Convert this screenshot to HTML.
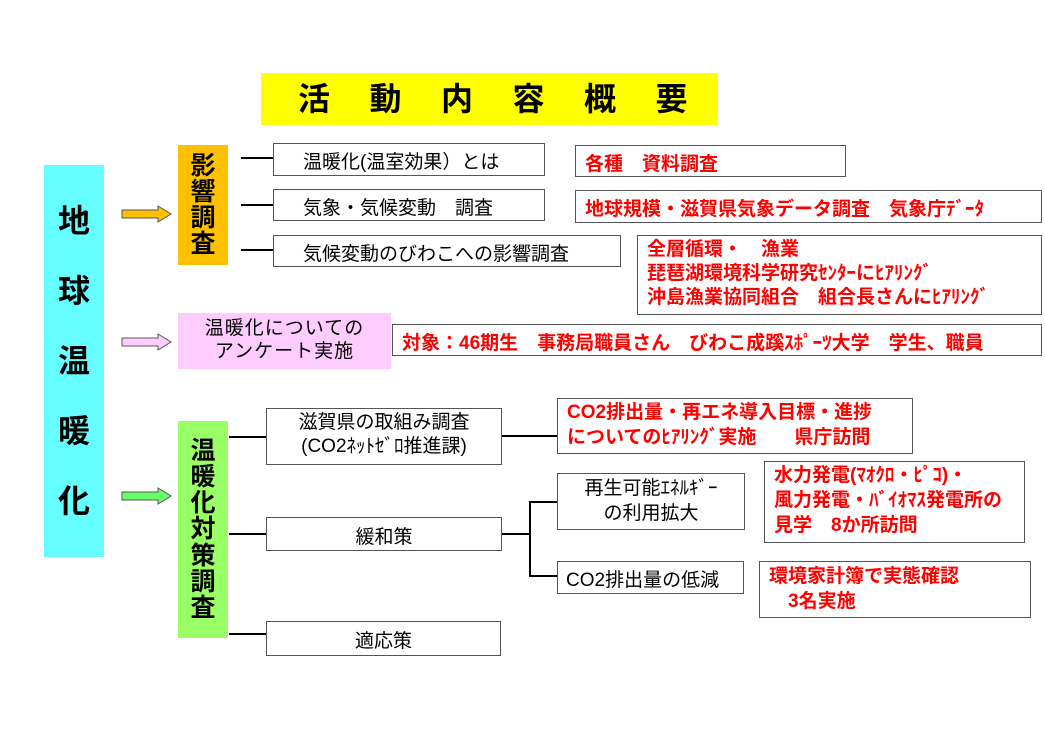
<!DOCTYPE html>
<html><head><meta charset="utf-8"><style>
body{margin:0;width:1045px;height:731px;background:#fff;position:relative;overflow:hidden;font-family:"Liberation Sans","Noto Sans CJK JP",sans-serif;}
.a{position:absolute;box-sizing:border-box;}
.bx{border:1.5px solid #555;background:#fff;font-size:19px;color:#000;white-space:nowrap;}
.r{color:#f00;font-weight:bold;}
.v{display:flex;flex-direction:column;align-items:center;justify-content:center;font-weight:bold;line-height:1.05;}
</style></head><body>
<div class="a" style="left:261px;top:73px;width:457px;height:52px;background:#ff0;"></div>
<div class="a" style="left:298px;top:78px;font-size:32px;line-height:42px;font-weight:bold;letter-spacing:39.5px;white-space:nowrap">活動内容概要</div>

<div class="a v" style="left:44px;top:165px;width:60px;height:392px;background:#66ffff;font-size:32px;line-height:70px;">地<br>球<br>温<br>暖<br>化</div>

<div class="a v" style="left:178px;top:145px;width:50px;height:120px;background:#ffc000;font-size:25px;">影<br>響<br>調<br>査</div>
<div class="a v" style="left:178px;top:421px;width:50px;height:217px;background:#99ff66;font-size:25px;">温<br>暖<br>化<br>対<br>策<br>調<br>査</div>
<div class="a" style="left:178px;top:313px;width:213px;height:56px;background:#ffccff;font-size:19px;text-align:center;line-height:23px;padding-top:4px;letter-spacing:1px;white-space:nowrap">温暖化についての<br>アンケート実施</div>

<svg class="a" style="left:0;top:0" width="1045" height="731">
<g stroke="#555" stroke-width="1">
<path d="M122 210h36v-4l13 8-13 8v-4h-36z" fill="#ffc000"/>
<path d="M122 338h36v-4l13 8-13 8v-4h-36z" fill="#ffccff"/>
<path d="M122 492h36v-4l13 8-13 8v-4h-36z" fill="#66ff66"/>
</g>
<g stroke="#000" stroke-width="2" fill="none">
<path d="M241 158h32M241 205h32M241 250h32M229 437h37M502 436h55M229 534h37M229 634h37M502 534h28M557 502h-27v74h27"/>
</g>
</svg>

<div class="a bx" style="left:273px;top:143px;width:272px;height:33px;padding:3px 0 0 29px">温暖化(温室効果）とは</div>
<div class="a bx" style="left:273px;top:189px;width:272px;height:32px;padding:3px 0 0 29px">気象・気候変動　調査</div>
<div class="a bx" style="left:273px;top:235px;width:348px;height:32px;padding:3px 0 0 29px">気候変動のびわこへの影響調査</div>

<div class="a bx r" style="left:575px;top:145px;width:271px;height:32px;padding:3px 0 0 9px">各種　資料調査</div>
<div class="a bx r" style="left:575px;top:190px;width:467px;height:33px;padding:3px 0 0 9px">地球規模・滋賀県気象データ調査　気象庁ﾃﾞｰﾀ</div>
<div class="a bx r" style="left:637px;top:235px;width:405px;height:80px;padding:2px 0 0 9px;line-height:24px">全層循環・　漁業<br>琵琶湖環境科学研究ｾﾝﾀｰにﾋｱﾘﾝｸﾞ<br>沖島漁業協同組合　組合長さんにﾋｱﾘﾝｸﾞ</div>
<div class="a bx r" style="left:392px;top:324px;width:650px;height:32px;padding:3px 0 0 9px">対象：46期生　事務局職員さん　びわこ成蹊ｽﾎﾟｰﾂ大学　学生、職員</div>

<div class="a bx" style="left:266px;top:408px;width:236px;height:57px;text-align:center;line-height:24px;padding-top:2px">滋賀県の取組み調査<br>(CO2ﾈｯﾄｾﾞﾛ推進課)</div>
<div class="a bx r" style="left:557px;top:398px;width:356px;height:56px;padding:1px 0 0 9px;line-height:25px">CO2排出量・再エネ導入目標・進捗<br>についてのﾋｱﾘﾝｸﾞ実施　　県庁訪問</div>
<div class="a bx" style="left:266px;top:517px;width:236px;height:34px;text-align:center;padding-top:4px">緩和策</div>
<div class="a bx" style="left:266px;top:621px;width:235px;height:35px;text-align:center;padding-top:4px">適応策</div>
<div class="a bx" style="left:557px;top:473px;width:188px;height:57px;text-align:center;line-height:25px;padding-top:2px">再生可能ｴﾈﾙｷﾞｰ<br>の利用拡大</div>
<div class="a bx" style="left:557px;top:561px;width:187px;height:33px;padding:3px 0 0 8px">CO2排出量の低減</div>
<div class="a bx r" style="left:764px;top:461px;width:261px;height:82px;padding:1px 0 0 9px;line-height:25px">水力発電(ﾏｵｸﾛ・ﾋﾟｺ)・<br>風力発電・ﾊﾞｲｵﾏｽ発電所の<br>見学　8か所訪問</div>
<div class="a bx r" style="left:759px;top:561px;width:272px;height:57px;padding:2px 0 0 9px;line-height:25px">環境家計簿で実態確認<br>　3名実施</div>
</body></html>
